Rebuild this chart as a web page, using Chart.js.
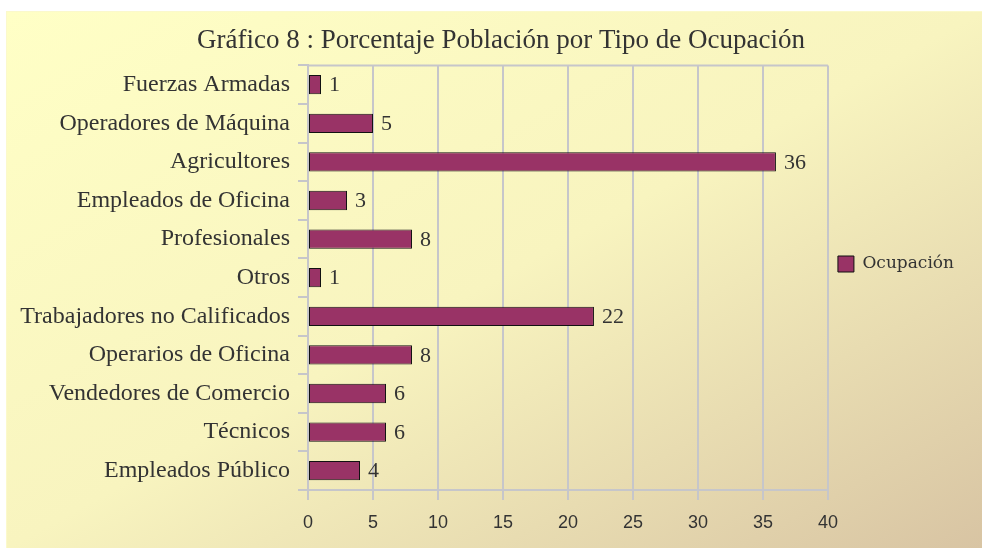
<!DOCTYPE html>
<html>
<head>
<meta charset="utf-8">
<script src="https://cdn.jsdelivr.net/npm/chart.js@4.4.1/dist/chart.umd.min.js"></script>
<style>
  html, body { margin: 0; padding: 0; background: #fff; }
  #wrap { position: relative; width: 982px; height: 548px; overflow: hidden; }
  #bg {
    position: absolute; left: 6px; top: 11px; right: 0; bottom: 0;
    border-left: 1px solid #fbf9cc; border-top: 1px solid #fbf9cc;
    background: linear-gradient(to bottom right, #ffffc6 0%, #f8f4bf 50%, #d8c4a3 100%);
  }
  canvas { position: absolute; left: 0; top: 0; }
</style>
</head>
<body>
<div id="wrap"><div id="bg"></div><canvas id="c" width="982" height="548"></canvas></div>
<script>
// data
const TITLE = "Gráfico 8 : Porcentaje Población por Tipo de Ocupación";
const SERIES_LABEL = "Ocupación";
const CATEGORIES = [
  "Fuerzas Armadas", "Operadores de Máquina", "Agricultores", "Empleados de Oficina",
  "Profesionales", "Otros", "Trabajadores no Calificados", "Operarios de Oficina",
  "Vendedores de Comercio", "Técnicos", "Empleados Público",
];
const VALUES = [1, 5, 36, 3, 8, 1, 22, 8, 6, 6, 4];
const X_MIN = 0, X_MAX = 40, X_STEP = 5;

const BAR_COLOR = "#993366";
const GRID = "#c6c6ca";
const TEXT = "#333333";
const SERIF = "'Liberation Serif', 'Times New Roman', serif";
const SANS = "'Liberation Sans', Arial, sans-serif";

// value labels at the end of each bar
const valueLabels = {
  id: "valueLabels",
  afterDatasetsDraw(chart) {
    const ctx = chart.ctx;
    const meta = chart.getDatasetMeta(0);
    ctx.save();
    ctx.font = "22px " + SERIF;
    ctx.fillStyle = TEXT;
    ctx.textAlign = "left";
    ctx.textBaseline = "middle";
    meta.data.forEach((bar, i) => {
      ctx.fillText(String(VALUES[i]), bar.x + 8, bar.y + 1);
    });
    ctx.restore();
  },
};

// top frame line of the plot area, and title nudged to the right like the original
const topFrame = {
  id: "topFrame",
  afterLayout(chart) {
    if (chart.titleBlock) chart.titleBlock.left += 28;
  },
  beforeDatasetsDraw(chart) {
    const { ctx, chartArea: a } = chart;
    ctx.save();
    ctx.strokeStyle = GRID;
    ctx.lineWidth = 2;
    ctx.beginPath();
    ctx.moveTo(a.left, a.top);
    ctx.lineTo(a.right, a.top);
    ctx.stroke();
    ctx.restore();
  },
};

new Chart(document.getElementById("c"), {
  type: "bar",
  data: {
    labels: CATEGORIES,
    datasets: [{
      label: SERIES_LABEL,
      data: VALUES,
      backgroundColor: BAR_COLOR,
      borderColor: "#111",
      borderWidth: 1,
      borderSkipped: false,
      barPercentage: 0.5,
      categoryPercentage: 1,
    }],
  },
  options: {
    indexAxis: "y",
    responsive: false,
    devicePixelRatio: 1,
    animation: false,
    layout: { padding: { left: 10, right: 18, top: 0, bottom: 20 } },
    plugins: {
      title: {
        display: true,
        text: TITLE,
        color: TEXT,
        font: { family: SERIF, size: 27, weight: "normal" },
        padding: { top: 25, bottom: 8 },
      },
      legend: {
        position: "right",
        labels: {
          color: TEXT,
          font: { family: "'DejaVu Serif', serif", size: 17 },
          boxWidth: 16,
          boxHeight: 16,
          padding: 10,
        },
      },
      tooltip: { enabled: false },
    },
    scales: {
      x: {
        min: X_MIN,
        max: X_MAX,
        ticks: { stepSize: X_STEP, color: TEXT, font: { family: SANS, size: 18 }, padding: 12 },
        grid: { color: GRID, tickLength: 10, lineWidth: 2 },
        border: { color: GRID, width: 2 },
        afterFit: (s) => { s.height = 38; },
      },
      y: {
        ticks: { color: TEXT, font: { family: SERIF, size: 24 }, padding: 8 },
        grid: { offset: true, drawOnChartArea: false, color: GRID, tickLength: 10, lineWidth: 2 },
        border: { color: GRID, width: 2 },
        afterFit: (s) => { s.width = 298; },
      },
    },
  },
  plugins: [valueLabels, topFrame],
});
</script>
</body>
</html>
